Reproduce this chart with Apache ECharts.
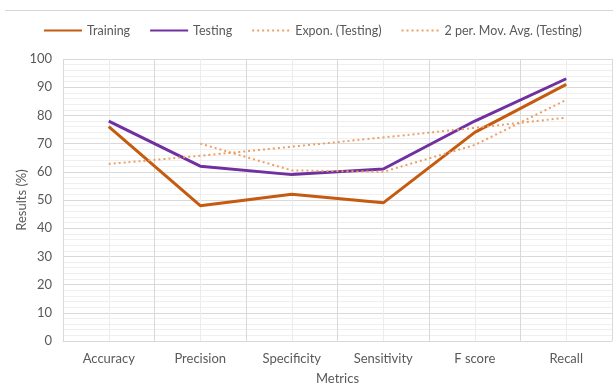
<!DOCTYPE html>
<html>
<head>
<meta charset="utf-8">
<script src="https://cdn.jsdelivr.net/npm/echarts@6/dist/echarts.min.js"></script>
<style>
  html, body { margin: 0; padding: 0; background: #ffffff; }
  #chart { width: 613px; height: 385px; }
</style>
</head>
<body>
<div id="chart"></div>
<script>
// Metric categories on the x axis
const metrics = ['Accuracy', 'Precision', 'Specificity', 'Sensitivity', 'F score', 'Recall'];
// Model results in percent
const training = [76, 48, 52, 49, 74, 91];
const testing = [78, 62, 59, 61, 78, 93];
// Trendlines fitted to the testing results
const exponTesting = [62.8, 65.7, 68.9, 72.2, 75.6, 79.2];
const movAvgTesting = [null, 70, 60.5, 60, 69.5, 85.5];
// Y axis range
const yTicks = { min: 0, max: 100, step: 10 };

const textColor = '#595959';
const fontFamily = 'Lato, "Liberation Sans", sans-serif';
const trendColor = '#EE9E62';

const chart = echarts.init(document.getElementById('chart'), null, { renderer: 'canvas' });

chart.setOption({
  animation: false,
  backgroundColor: '#ffffff',
  textStyle: { fontFamily: fontFamily },
  graphic: [{
    type: 'line',
    shape: { x1: 5, y1: 10.5, x2: 613, y2: 10.5 },
    style: { stroke: '#d6d6d6', lineWidth: 1 },
    silent: true
  }],
  legend: {
    top: 24,
    left: 43,
    width: 570,
    padding: 0,
    itemWidth: 38,
    itemHeight: 14,
    itemGap: 19,
    itemStyle: { opacity: 0 },
    textStyle: { color: textColor, fontSize: 12.5, fontFamily: fontFamily },
    data: ['Training', 'Testing', 'Expon. (Testing)', '2 per. Mov. Avg. (Testing)']
  },
  grid: { left: 63, right: 1, top: 59, bottom: 44, containLabel: false, outerBoundsMode: 'none' },
  xAxis: [{
    type: 'category',
    data: metrics,
    boundaryGap: true,
    name: 'Metrics',
    nameLocation: 'middle',
    nameGap: 31,
    nameMoveOverlap: false,
    nameTextStyle: { color: textColor, fontSize: 13, fontFamily: fontFamily },
    axisLine: { show: true, lineStyle: { color: '#d9d9d9', width: 1 } },
    axisTick: { show: false },
    axisLabel: { color: textColor, fontSize: 13, margin: 11, interval: 0, fontFamily: fontFamily },
    splitLine: { show: true, interval: 0, lineStyle: { color: '#d9d9d9', width: 1 } },
    z: 3
  }, {
    // light lines through the middle of each category
    type: 'value',
    min: 0,
    max: metrics.length,
    interval: 1,
    show: true,
    axisLine: { show: false },
    axisTick: { show: false },
    axisLabel: { show: false },
    splitLine: { show: false },
    minorTick: { show: false, splitNumber: 2 },
    minorSplitLine: { show: true, lineStyle: { color: '#ececec', width: 1 } },
    position: 'top',
    z: 1
  }],
  yAxis: {
    type: 'value',
    min: yTicks.min,
    max: yTicks.max,
    interval: yTicks.step,
    name: 'Results (%)',
    nameLocation: 'middle',
    nameGap: 35,
    nameRotate: 90,
    nameMoveOverlap: false,
    nameTextStyle: { color: textColor, fontSize: 13, fontFamily: fontFamily },
    axisLine: { show: false },
    axisTick: { show: false },
    axisLabel: { color: textColor, fontSize: 13, margin: 11, fontFamily: fontFamily },
    splitLine: { show: true, lineStyle: { color: '#d9d9d9', width: 1 } },
    minorTick: { show: false, splitNumber: 5 },
    minorSplitLine: { show: true, lineStyle: { color: '#efefef', width: 1 } }
  },
  series: [
    {
      name: 'Training',
      type: 'line',
      data: training,
      symbol: 'none',
      lineStyle: { color: '#C55A11', width: 3 },
      itemStyle: { color: '#C55A11' },
      z: 4
    },
    {
      name: 'Testing',
      type: 'line',
      data: testing,
      symbol: 'none',
      lineStyle: { color: '#7030A0', width: 3 },
      itemStyle: { color: '#7030A0' },
      z: 5
    },
    {
      name: 'Expon. (Testing)',
      type: 'line',
      data: exponTesting,
      smooth: true,
      symbol: 'none',
      lineStyle: { color: trendColor, width: 2, type: [2, 3] },
      itemStyle: { color: trendColor },
      z: 6
    },
    {
      name: '2 per. Mov. Avg. (Testing)',
      type: 'line',
      data: movAvgTesting,
      symbol: 'none',
      connectNulls: false,
      lineStyle: { color: trendColor, width: 2, type: [2, 3] },
      itemStyle: { color: trendColor },
      z: 6
    }
  ]
});
</script>
</body>
</html>
